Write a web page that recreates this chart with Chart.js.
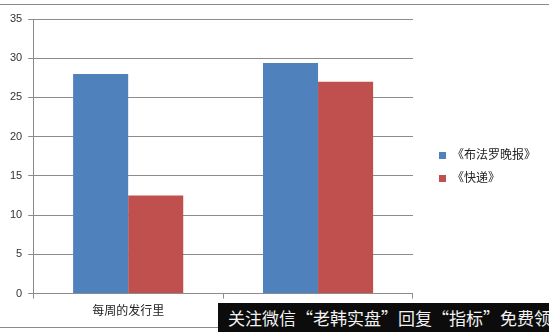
<!DOCTYPE html>
<html>
<head>
<meta charset="utf-8">
<script src="https://cdn.jsdelivr.net/npm/chart.js@4.4.1/dist/chart.umd.min.js"></script>
<style>
  html, body { margin: 0; padding: 0; background: #fff; }
  #wrap { position: relative; width: 549px; height: 332px; overflow: hidden; }
  #wrap:before { content: ''; position: absolute; left: 0; right: 0; top: 4px; border-top: 1px solid #8a8a8a; }
  #wrap:after { content: ''; position: absolute; left: 0; right: 0; top: 327px; border-top: 1px solid #8a8a8a; }
  canvas { position: absolute; left: 0; top: 0; }
  #mark {
    position: absolute; left: 218px; top: 303px; width: 331px; height: 29px; z-index: 2;
    background: #0c0c0c; color: #f2f2f2; font: 17px "Noto Sans CJK SC", sans-serif;
    line-height: 29px; padding-left: 10px; box-sizing: border-box; white-space: nowrap; overflow: hidden;
  }
</style>
</head>
<body>
<div id="wrap">
  <canvas id="c" width="549" height="332"></canvas>
  <div id="mark">关注微信“老韩实盘”回复“指标”免费领</div>
</div>
<script>
const categories = ['每周的发行里', '每周日的发行里'];
const seriesNames = ['《布法罗晚报》', '《快递》'];
const buffaloNews = [28, 12.5];
const courierExpress = [29.4, 27];
const yTicks = [0, 5, 10, 15, 20, 25, 30, 35];

const font = { family: '"Liberation Sans", "Noto Sans CJK SC", sans-serif', size: 11 };

// widen the legend column and push its items right, like the original sheet
const legendSpace = {
  id: 'legendSpace',
  beforeUpdate(chart) {
    const lg = chart.legend;
    if (lg && !lg._wide) {
      const fit = lg.fit.bind(lg);
      lg.fit = function () { fit(); this.width += 14; };
      lg._wide = true;
    }
  },
  afterLayout(chart) {
    const lg = chart.legend;
    lg.left += 15; lg.right += 15;
    lg.top -= 5; lg.bottom -= 5;
  }
};

new Chart(document.getElementById('c'), {
  type: 'bar',
  data: {
    labels: categories,
    datasets: [
      { label: seriesNames[0], data: [buffaloNews[0], courierExpress[0]], backgroundColor: '#4f81bd' },
      { label: seriesNames[1], data: [buffaloNews[1], courierExpress[1]], backgroundColor: '#c0504d' }
    ]
  },
  options: {
    responsive: false,
    animation: false,
    layout: { padding: { top: 19, left: 4, right: 4, bottom: 7 } },
    datasets: { bar: { categoryPercentage: 0.58, barPercentage: 1 } },
    plugins: {
      tooltip: { enabled: false },
      legend: {
        position: 'right',
        labels: { boxWidth: 7, boxHeight: 7, padding: 11, color: '#222', font: { ...font, size: 12 } }
      }
    },
    scales: {
      x: {
        grid: { display: true, drawOnChartArea: false, offset: true, tickLength: 5, color: '#8c8c8c' },
        border: { color: '#8c8c8c' },
        ticks: { color: '#222', font: { ...font, size: 12 }, padding: 6 }
      },
      y: {
        min: 0, max: 35,
        afterBuildTicks: s => { s.ticks = yTicks.map(v => ({ value: v })); },
        grid: { color: '#8c8c8c', tickLength: 5 },
        border: { color: '#8c8c8c' },
        ticks: { color: '#333', font, padding: 6 }
      }
    }
  },
  plugins: [legendSpace]
});
</script>
</body>
</html>
